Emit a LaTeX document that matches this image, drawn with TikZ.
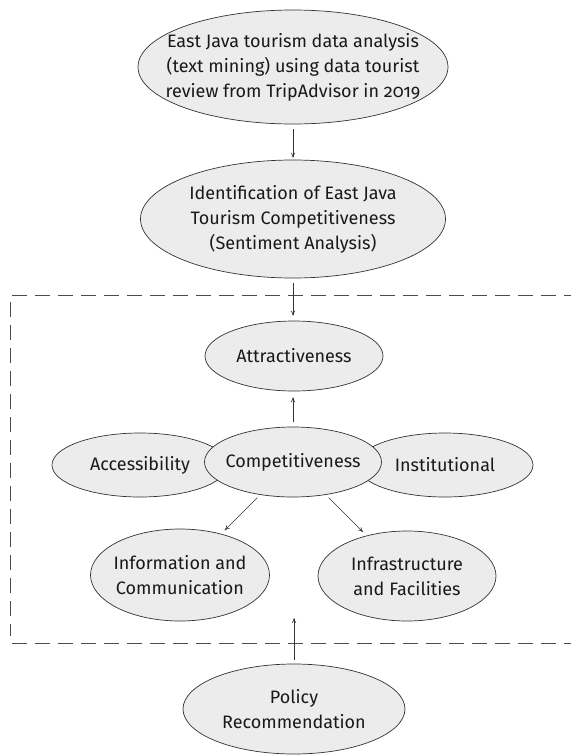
\documentclass[tikz,border=0pt]{standalone}
\usepackage{fontspec}
\setmainfont{Fira Sans}[Numbers=OldStyle]
\usetikzlibrary{shapes.geometric,arrows.meta}

\begin{document}
\begin{tikzpicture}[x=1pt,y=-1pt,
    bubble/.style={ellipse,draw=black!80,fill=gray!15,line width=0.7pt,
      inner xsep=-45pt,inner ysep=-12pt,align=center,
      font=\fontsize{18}{25}\selectfont,text=black!90},
    link/.style={-{To[length=5pt,width=4.5pt]},line width=0.6pt,draw=black!80},
    frame/.style={dash pattern=on 15pt off 8pt,line width=0.7pt,draw=black!70}]
                \useasboundingbox (0,0) rectangle (571,756);
                \begin{scope}
                \clip (0,0) rectangle (571,756);
                \draw[frame] (12,295) -- (600,295);
                \draw[frame] (12,643) -- (600,643);
                \draw[frame] (10,302) -- (10,636);
                \end{scope}
                \node (data) at (293,67) [bubble,minimum width=310pt,minimum height=114pt] {East Java tourism data analysis\\(text mining) using data tourist\\review from TripAdvisor in 2019};
                \node (ident) at (293,219) [bubble,minimum width=305pt,minimum height=118pt] {Identification of East Java\\Tourism Competitiveness\\(Sentiment Analysis)};
                \node (attr) at (294,356) [bubble,minimum width=178pt,minimum height=70pt] {Attractiveness};
                \node (acc) at (140,465) [bubble,minimum width=176pt,minimum height=64pt] {Accessibility};
                \node (inst) at (445,465) [bubble,minimum width=176pt,minimum height=64pt] {Institutional};
                \node (comp) at (293,462) [bubble,minimum width=177pt,minimum height=70pt] {Competitiveness};
                \node (info) at (180,575) [bubble,minimum width=179pt,minimum height=92pt] {Information and\\Communication};
                \node (infra) at (407,576) [bubble,minimum width=178pt,minimum height=90pt] {Infrastructure\\and Facilities};
                \node (policy) at (294,709) [bubble,minimum width=222pt,minimum height=90pt] {Policy\\Recommendation};
                \coordinate (box) at (294,618);
                \draw[link,shorten <=5pt,shorten >=2pt] (data) -- (ident);
                \draw[link,shorten <=5pt,shorten >=5pt] (ident.south) -- (ident.south |- attr.north);
                \draw[link,shorten <=5pt,shorten >=6pt] (comp.north) -- (comp.north |- attr.south);
                \draw[link,shorten <=4pt,shorten >=5pt] (comp) -- (info);
                \draw[link,shorten <=4pt,shorten >=5pt] (comp) -- (infra);
                \draw[link,shorten <=4pt] (policy.north) -- (policy.north |- box);
\end{tikzpicture}
\end{document}
